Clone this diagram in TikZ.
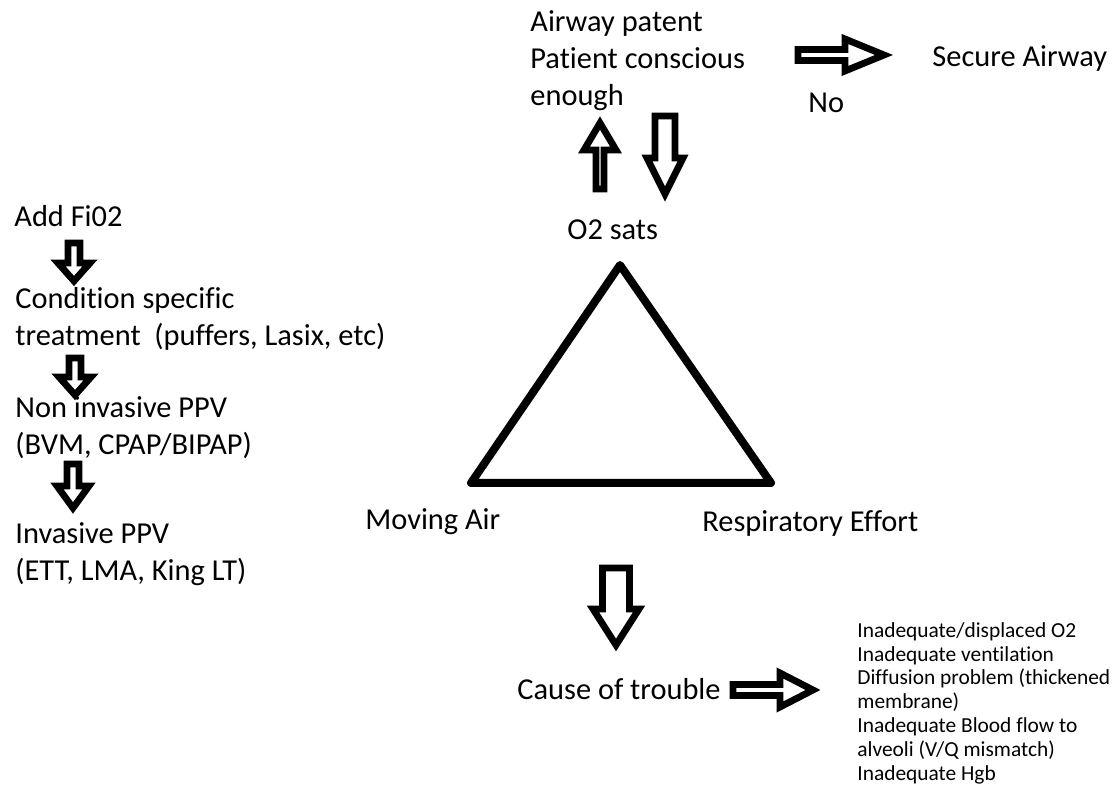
\documentclass[tikz,border=0pt]{standalone}
\usepackage{fontspec}
\setmainfont{Carlito}[Ligatures=NoCommon]
\usetikzlibrary{calc}

\newcommand{\blockarrow}[5]{%
	\coordinate (#1_#2_base) at ($(#2)!#5!(#1)$);
	\draw[blockarr] ($(#1)!#3!90:(#2)$) -- ($(#1_#2_base)!#3!90:(#2)$) -- ($(#1_#2_base)!#4!90:(#2)$) -- (#2)
		-- ($(#1_#2_base)!#4!-90:(#2)$) -- ($(#1_#2_base)!#3!-90:(#2)$) -- ($(#1)!#3!-90:(#2)$) -- cycle;
}

\begin{document}
\begin{tikzpicture}[x=0.5pt,y=-0.5pt,
	txt/.style={font=\fontsize{15.2}{18.5}\selectfont,inner sep=0pt,align=left,anchor=base west},
	smalltxt/.style={font=\fontsize{10.7}{11.9}\selectfont,inner sep=0pt,align=left,anchor=base west},
	blockarr/.style={draw=black,line width=3.4pt,fill=white},
	tri/.style={draw=black,line width=4pt,line join=round}]
	\useasboundingbox (0,0) rectangle (1114,785);

	\node[txt] (airway_patent) at (530,106) {Airway patent\\Patient conscious\\enough};
	\node[txt] (secure_airway) at (932,67) {Secure Airway};
	\node[txt] (no) at (808,113) {No};
	\node[txt] (o2_sats) at (567,240) {O2 sats};
	\node[txt] (add_fio2) at (14,227) {Add Fi02};
	\node[txt] (condition) at (15,346) {Condition specific\\treatment\ \ (puffers, Lasix, etc)};
	\node[txt] (non_invasive) at (15,455) {Non invasive PPV\\(BVM, CPAP/BIPAP)};
	\node[txt] (invasive) at (15,581) {Invasive PPV\\(ETT, LMA, King LT)};
	\node[txt] (moving_air) at (365,530) {Moving Air};
	\node[txt] (resp_effort) at (702,532) {Respiratory Effort};
	\node[txt] (cause) at (517,699) {Cause of trouble};
	\node[smalltxt] (causes) at (857,780) {Inadequate/displaced O2\\Inadequate ventilation\\Diffusion problem (thickened\\membrane)\\Inadequate Blood flow to\\alveoli (V/Q mismatch)\\Inadequate Hgb};

	\coordinate (tri_top) at (620,265);
	\coordinate (tri_left) at (471,483);
	\coordinate (tri_right) at (771,483);
	\draw[tri] (tri_top) -- (tri_left) -- (tri_right) -- cycle;

	\coordinate (no_from) at (798,55);
	\coordinate (no_to) at (884,55);
	\coordinate (sats_up_from) at (600,189);
	\coordinate (sats_up_to) at (600,123);
	\coordinate (sats_down_from) at (665,116);
	\coordinate (sats_down_to) at (665,194);
	\coordinate (trouble_from) at (616,568);
	\coordinate (trouble_to) at (616,645);
	\coordinate (causes_from) at (733,690);
	\coordinate (causes_to) at (813,690);
	\coordinate (fio2_from) at (74,243);
	\coordinate (fio2_to) at (74,281);
	\coordinate (cond_from) at (75,358);
	\coordinate (cond_to) at (75,395);
	\coordinate (niv_from) at (73,464);
	\coordinate (niv_to) at (73,508);

	\blockarrow{no_from}{no_to}{2.75pt}{8pt}{19.5pt}
	\blockarrow{sats_up_from}{sats_up_to}{2pt}{8pt}{13.5pt}
	\blockarrow{sats_down_from}{sats_down_to}{5pt}{9pt}{18pt}
	\blockarrow{trouble_from}{trouble_to}{6.75pt}{11.5pt}{18pt}
	\blockarrow{causes_from}{causes_to}{2.75pt}{8.5pt}{16.5pt}
	\blockarrow{fio2_from}{fio2_to}{3pt}{8pt}{9pt}
	\blockarrow{cond_from}{cond_to}{3pt}{8pt}{9pt}
	\blockarrow{niv_from}{niv_to}{3pt}{8pt}{11pt}
\end{tikzpicture}
\end{document}
